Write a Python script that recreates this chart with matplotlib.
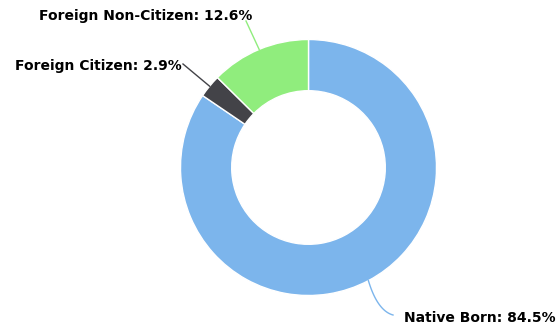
import numpy as np
import matplotlib
matplotlib.use("Agg")
import matplotlib.pyplot as plt

categories = ["Native Born", "Foreign Citizen", "Foreign Non-Citizen"]
values = [84.5, 2.9, 12.6]
colors = ["#7cb5ec", "#434348", "#90ed7d"]

W, H = 558, 327
fig = plt.figure(figsize=(W / 100, H / 100), dpi=100)
ax = fig.add_axes([0, 0, 1, 1])

cx, cy, R = 308.5, 167.5, 128
# y axis is inverted (pixel coordinates), so data angle -90 is the visual top
wedges, _ = ax.pie(values, colors=colors, startangle=-90, counterclock=True,
                   center=(cx, cy), radius=R,
                   wedgeprops=dict(width=R * 0.4, edgecolor="white", linewidth=1))
ax.set_xlim(0, W)
ax.set_ylim(H, 0)
ax.set_aspect("equal")
ax.axis("off")

# label text positions (pixels), alignments and connector end points
label_pos = [(404, 318, "left", 393, 315),
             (182, 66, "right", 183, 64),
             (252, 16, "right", 246, 21)]

for w, cat, v, col, (tx, ty, ha, ex, ey) in zip(wedges, categories, values, colors, label_pos):
    ang = np.deg2rad((w.theta1 + w.theta2) / 2)
    px = cx + R * np.cos(ang)
    py = cy + R * np.sin(ang)
    if ha == "left":
        # gently curved connector (quadratic bezier)
        cx1, cy1 = px + 9, py + 30
        t = np.linspace(0, 1, 30)
        xs = (1 - t) ** 2 * px + 2 * (1 - t) * t * cx1 + t ** 2 * ex
        ys = (1 - t) ** 2 * py + 2 * (1 - t) * t * cy1 + t ** 2 * ey
        ax.plot(xs, ys, color=col, lw=1)
    else:
        ax.plot([px, ex], [py, ey], color=col, lw=1)
    ax.text(tx, ty, f"{cat}: {v}%", ha=ha, va="center", fontsize=10,
            fontweight="bold", color="black", family="DejaVu Sans")

fig.savefig("out.png", dpi=100)
